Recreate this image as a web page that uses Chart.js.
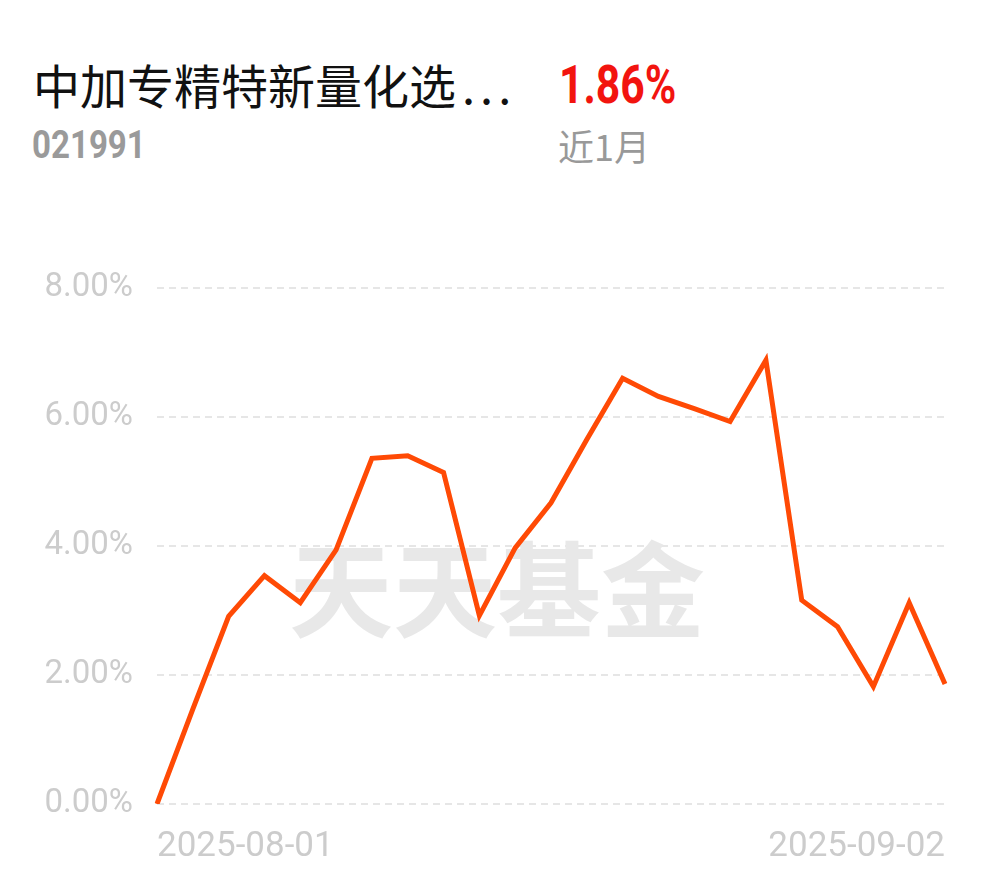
<!DOCTYPE html>
<html>
<head>
<meta charset="utf-8">
<script src="https://cdn.jsdelivr.net/npm/chart.js@4/dist/chart.umd.min.js"></script>
<style>
  html, body { margin: 0; padding: 0; background: #fff; }
  body { width: 990px; height: 878px; position: relative; overflow: hidden; font-family: Roboto, "Noto Sans CJK SC", sans-serif; }
  .title { position: absolute; left: 33px; top: 53px; font-size: 47px; color: #111; font-family: "Noto Sans CJK SC", sans-serif; white-space: nowrap; line-height: 62px; }
  .title .dots { letter-spacing: 5px; margin-left: 6px; }
  .code { position: absolute; left: 32px; top: 121px; font-size: 38px; color: #9a9a9a; font-weight: bold; line-height: 48px; transform: scaleX(0.87); transform-origin: left center; }
  .ret { position: absolute; left: 559px; top: 52px; font-size: 54px; color: #f2140f; font-weight: bold; line-height: 66px; transform: scaleX(0.79); transform-origin: left center; }
  .period { position: absolute; left: 558px; top: 120px; font-size: 36px; color: #999; font-family: "Noto Sans CJK SC", sans-serif; line-height: 50px; }
  #wrap { position: absolute; left: 0; top: 0; width: 990px; height: 878px; }
</style>
</head>
<body>
<div class="title">中加专精特新量化选<span class="dots">...</span></div>
<div class="ret">1.86%</div>
<div class="code">021991</div>
<div class="period">近1月</div>
<div id="wrap"><canvas id="chart"></canvas></div>
<script>
  // 近1月 交易日
  const dates = [
    "2025-08-01", "2025-08-04", "2025-08-05", "2025-08-06", "2025-08-07", "2025-08-08",
    "2025-08-11", "2025-08-12", "2025-08-13", "2025-08-14", "2025-08-15",
    "2025-08-18", "2025-08-19", "2025-08-20", "2025-08-21", "2025-08-22",
    "2025-08-25", "2025-08-26", "2025-08-27", "2025-08-28", "2025-08-29",
    "2025-09-01", "2025-09-02"
  ];
  // 累计收益率 (%)
  const returns = [
    0, 1.47, 2.91, 3.54, 3.12, 3.94,
    5.36, 5.40, 5.14, 2.92, 3.97,
    4.67, 5.65, 6.60, 6.32, 6.13,
    5.93, 6.88, 3.16, 2.75, 1.82,
    3.12, 1.86
  ];
  const yTicks = [0, 2, 4, 6, 8];

  // 水印
  const watermark = {
    id: "watermark",
    beforeDatasetsDraw(chart) {
      const ctx = chart.ctx;
      ctx.save();
      ctx.font = "bold 104px 'Noto Sans CJK SC'";
      ctx.fillStyle = "#e8e8e8";
      ctx.textAlign = "center";
      ctx.textBaseline = "middle";
      ctx.fillText("天天基金", 497, 590);
      ctx.restore();
    }
  };

  new Chart(document.getElementById("chart"), {
    type: "line",
    data: {
      labels: dates,
      datasets: [{
        data: returns,
        borderColor: "#ff4a05",
        borderWidth: 5,
        pointRadius: 0,
        tension: 0,
        fill: false
      }]
    },
    options: {
      responsive: true,
      maintainAspectRatio: false,
      animation: false,
      layout: { padding: { top: 288, right: 45, left: 0, bottom: 0 } },
      plugins: { legend: { display: false }, tooltip: { enabled: false } },
      scales: {
        x: {
          afterFit(scale) { scale.height = 74; },
          grid: { display: false, drawTicks: false },
          border: { display: false },
          ticks: {
            autoSkip: false,
            maxRotation: 0,
            align: "inner",
            padding: 22,
            color: "#cccccc",
            font: { family: "Roboto", size: 35 },
            callback(v, i) {
              return (i === 0 || i === dates.length - 1) ? dates[i] : "";
            }
          }
        },
        y: {
          min: 0,
          max: 8,
          afterFit(scale) { scale.width = 157; },
          afterBuildTicks(scale) { scale.ticks = yTicks.map(v => ({ value: v })); },
          grid: { color: "#e6e6e6", lineWidth: 2, drawTicks: false },
          border: { display: false, dash: [7, 5] },
          ticks: {
            padding: 24,
            color: "#cccccc",
            font: { family: "Roboto", size: 33 },
            callback: v => v.toFixed(2) + "%"
          }
        }
      }
    },
    plugins: [watermark]
  });
</script>
</body>
</html>
